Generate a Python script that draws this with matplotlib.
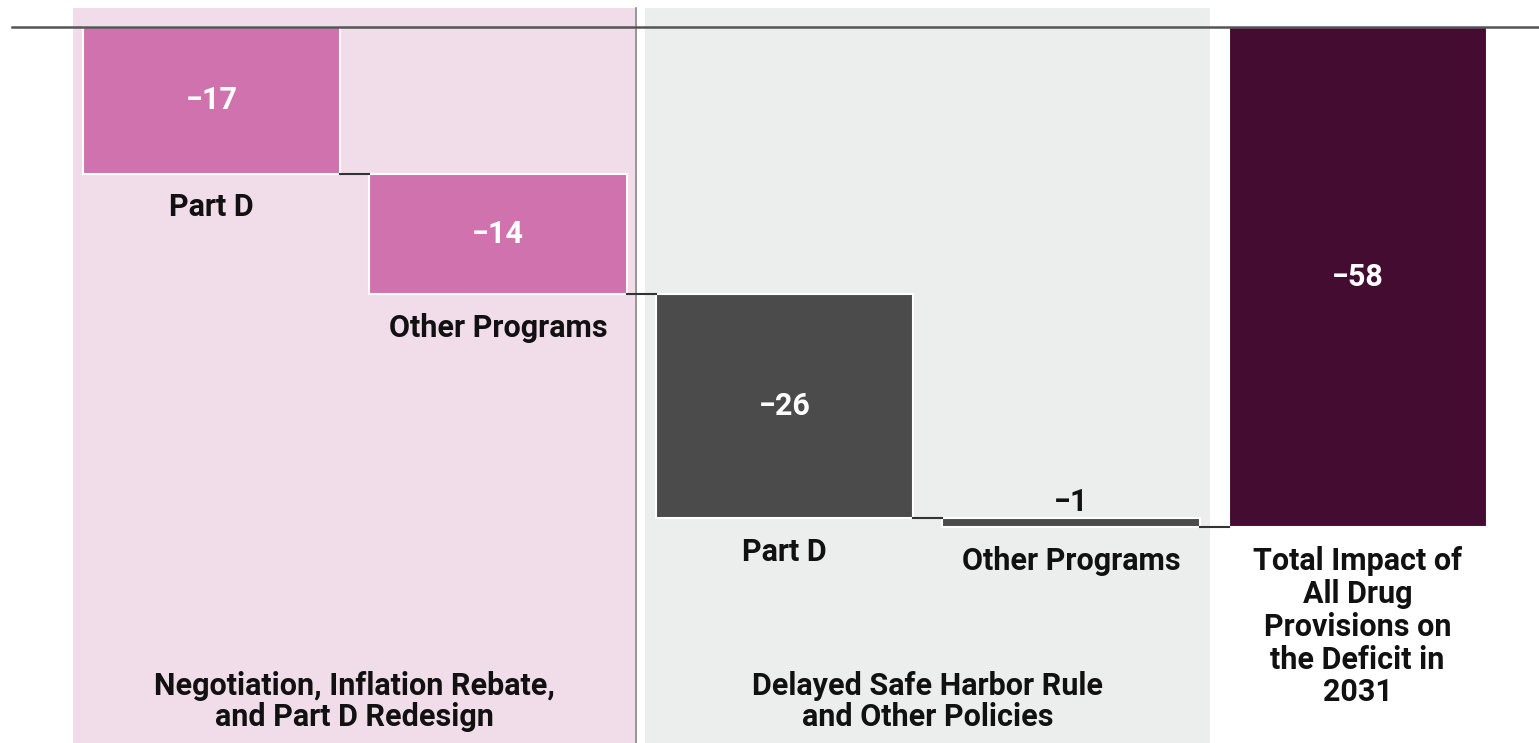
import matplotlib.pyplot as plt

# data
labels = ['Part D', 'Other Programs', 'Part D', 'Other Programs',
          'Total Impact of\nAll Drug\nProvisions on\nthe Deficit in\n2031']
values = [-17, -14, -26, -1, -58]
groups = ['Negotiation, Inflation Rebate,\nand Part D Redesign',
          'Delayed Safe Harbor Rule\nand Other Policies']

pink = '#cf72ad'
dark = '#4a4b4a'
plum = '#450c32'
bar_colors = [pink, pink, dark, dark, plum]

plt.rcParams['font.family'] = ['Roboto', 'DejaVu Sans']

fig = plt.figure(figsize=(15.39, 7.43), dpi=100)
ax = fig.add_axes([0, 0, 1, 1])
ax.set_xlim(-0.738, 4.633)
ax.set_ylim(-83.06, 3.13)
ax.axis('off')

# background panels
ax.axvspan(-0.483, 1.485, ymin=0, ymax=(2.2 + 83.06) / (3.13 + 83.06),
           color='#f0dde9', zorder=0, lw=0)
ax.axvspan(1.513, 3.485, ymin=0, ymax=(2.2 + 83.06) / (3.13 + 83.06),
           color='#eceded', zorder=0, lw=0)
ax.plot([1.48, 1.48], [-83.06, 2.2], color='#8a8a8a', lw=1.2, zorder=1)

# waterfall bars
width = 0.9
tops = []
run = 0
for i, v in enumerate(values):
    if i == len(values) - 1:
        top = 0
    else:
        top = run
        run += v
    tops.append(top)
    ax.bar(i, v, bottom=top, width=width, color=bar_colors[i],
           edgecolor='white', linewidth=1.5, zorder=2)

# connectors
for i in range(len(values) - 1):
    level = tops[i] + values[i]
    ax.plot([i + width / 2, i + 1 - width / 2], [level, level],
            color='#333333', lw=1.5, zorder=3)

# baseline
ax.plot([-0.696, 4.633], [0, 0], color='#555555', lw=1.8, zorder=4)

# value labels
for i, v in enumerate(values):
    txt = '\u2212' + str(abs(v))
    if abs(v) < 3:
        ax.text(i, tops[i] + v + 1.1, txt, ha='center', va='bottom',
                fontsize=22, fontweight='bold', color='#111111', zorder=5)
    else:
        ax.text(i, tops[i] + v / 2, txt, ha='center', va='center',
                fontsize=22, fontweight='bold', color='white', zorder=5)

# category labels
for i, lab in enumerate(labels):
    bottom = tops[i] + values[i]
    ls = 1.12 if '\n' in lab else 1.0
    ax.text(i, bottom - 2.2, lab, ha='center', va='top', fontsize=22,
            fontweight='bold', color='#111111', linespacing=ls, zorder=5)

# group labels
ax.text(0.5, -78.2, groups[0], ha='center', va='center', fontsize=22,
        fontweight='bold', color='#111111', linespacing=1.05)
ax.text(2.5, -78.2, groups[1], ha='center', va='center', fontsize=22,
        fontweight='bold', color='#111111', linespacing=1.05)

fig.savefig('out.png', dpi=100)
